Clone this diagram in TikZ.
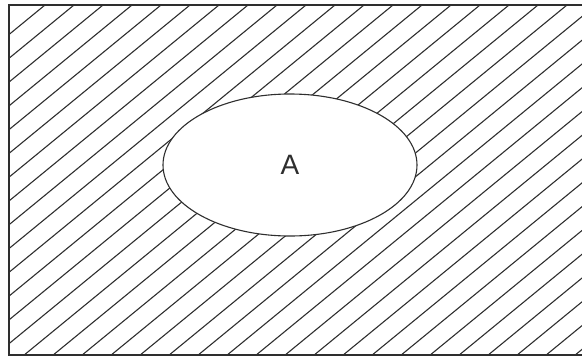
\documentclass[tikz,border=0pt]{standalone}
\usepackage{fontspec}
\setmainfont{Liberation Sans}
\usepackage{tikz}
\usetikzlibrary{shapes}
\usepackage{xcolor}
\definecolor{inkgray}{HTML}{2E2E2E}

\begin{document}
\begin{tikzpicture}[x=1pt, y=-1pt,
    hatchline/.style={inkgray, line width=1.1pt},
    frameline/.style={inkgray, line width=1.3pt},
    setline/.style={draw=inkgray, line width=1.1pt, fill=white, ellipse}]
    \useasboundingbox (0,0) rectangle (582,357);

    % 阴影线
    \begin{scope}
        \clip (9,5) rectangle (582,355);
        \foreach \k in {0,...,34} {
            \draw[hatchline] ({45+29*\k},5) -- ++(-500,410);
        }
    \end{scope}

    % 全集
    \draw[frameline] (582,5) -- (9,5) -- (9,355) -- (582,355);

    % 集合 A
    \node[setline, minimum width=254pt, minimum height=142pt, inner sep=0pt,
          text=inkgray, font=\fontsize{28}{30}\selectfont] (setA) at (290,165) {A};
\end{tikzpicture}
\end{document}
